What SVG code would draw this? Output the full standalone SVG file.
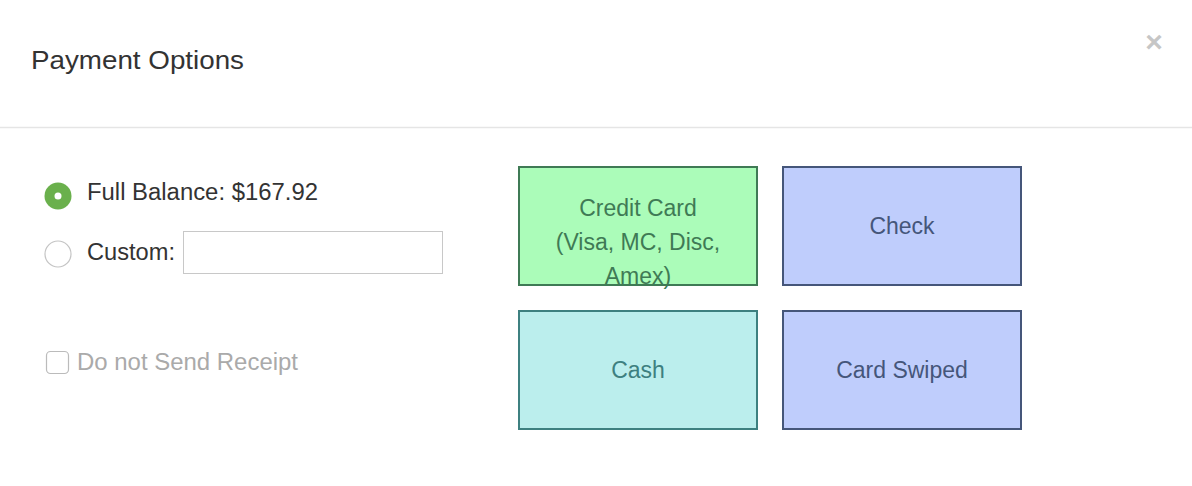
<svg xmlns="http://www.w3.org/2000/svg" width="1192" height="486" viewBox="0 0 1192 486">
<style>
text{font-family:"Liberation Sans",Arial,sans-serif}
.lbl{font-size:23px;fill:#333}
.btn{font-size:23px;text-anchor:middle}
</style>
<rect width="1192" height="486" fill="#fff"/>
<g id="header">
<text x="31" y="69" font-size="26" fill="#333" textLength="213" lengthAdjust="spacingAndGlyphs">Payment Options</text>
<text x="1154" y="52" font-size="30" font-weight="bold" fill="#c6c6c6" text-anchor="middle">×</text>
<line x1="0" y1="127.5" x2="1192" y2="127.5" stroke="#e5e5e5" stroke-width="1.5"/>
</g>
<g id="full-balance">
<circle cx="58" cy="196" r="13.5" fill="#6ab04c"/>
<circle cx="58" cy="196" r="3.5" fill="#fff"/>
<text class="lbl" x="87" y="200" textLength="231" lengthAdjust="spacingAndGlyphs">Full Balance: $167.92</text>
</g>
<g id="custom">
<circle cx="58" cy="254" r="13" fill="#fff" stroke="#c4c4c4" stroke-width="1.2"/>
<text class="lbl" x="87" y="260" textLength="88" lengthAdjust="spacingAndGlyphs">Custom:</text>
<rect x="183.5" y="231.5" width="259" height="42" fill="#fff" stroke="#c8c8c8"/>
</g>
<g id="receipt">
<rect x="46.5" y="351.5" width="22" height="22" rx="4" fill="#fff" stroke="#bbb" stroke-width="1.2"/>
<text x="77" y="370" font-size="23" fill="#aaa" textLength="221" lengthAdjust="spacingAndGlyphs">Do not Send Receipt</text>
</g>
<g id="credit-card">
<rect x="519" y="167" width="238" height="118" fill="#abfcb9" stroke="#3f7a55" stroke-width="2"/>
<text class="btn" x="638" y="216" fill="#3f7a55">Credit Card</text>
<text class="btn" x="638" y="250" fill="#3f7a55">(Visa, MC, Disc,</text>
<text class="btn" x="638" y="284" fill="#3f7a55">Amex)</text>
</g>
<g id="check">
<rect x="783" y="167" width="238" height="118" fill="#bfcdfc" stroke="#45567a" stroke-width="2"/>
<text class="btn" x="902" y="234" fill="#45567a">Check</text>
</g>
<g id="cash">
<rect x="519" y="311" width="238" height="118" fill="#bbeeed" stroke="#3d8080" stroke-width="2"/>
<text class="btn" x="638" y="378" fill="#3d8080">Cash</text>
</g>
<g id="card-swiped">
<rect x="783" y="311" width="238" height="118" fill="#bfcdfc" stroke="#45567a" stroke-width="2"/>
<text class="btn" x="902" y="378" fill="#45567a">Card Swiped</text>
</g>
<g id="connectors"/>
</svg>
